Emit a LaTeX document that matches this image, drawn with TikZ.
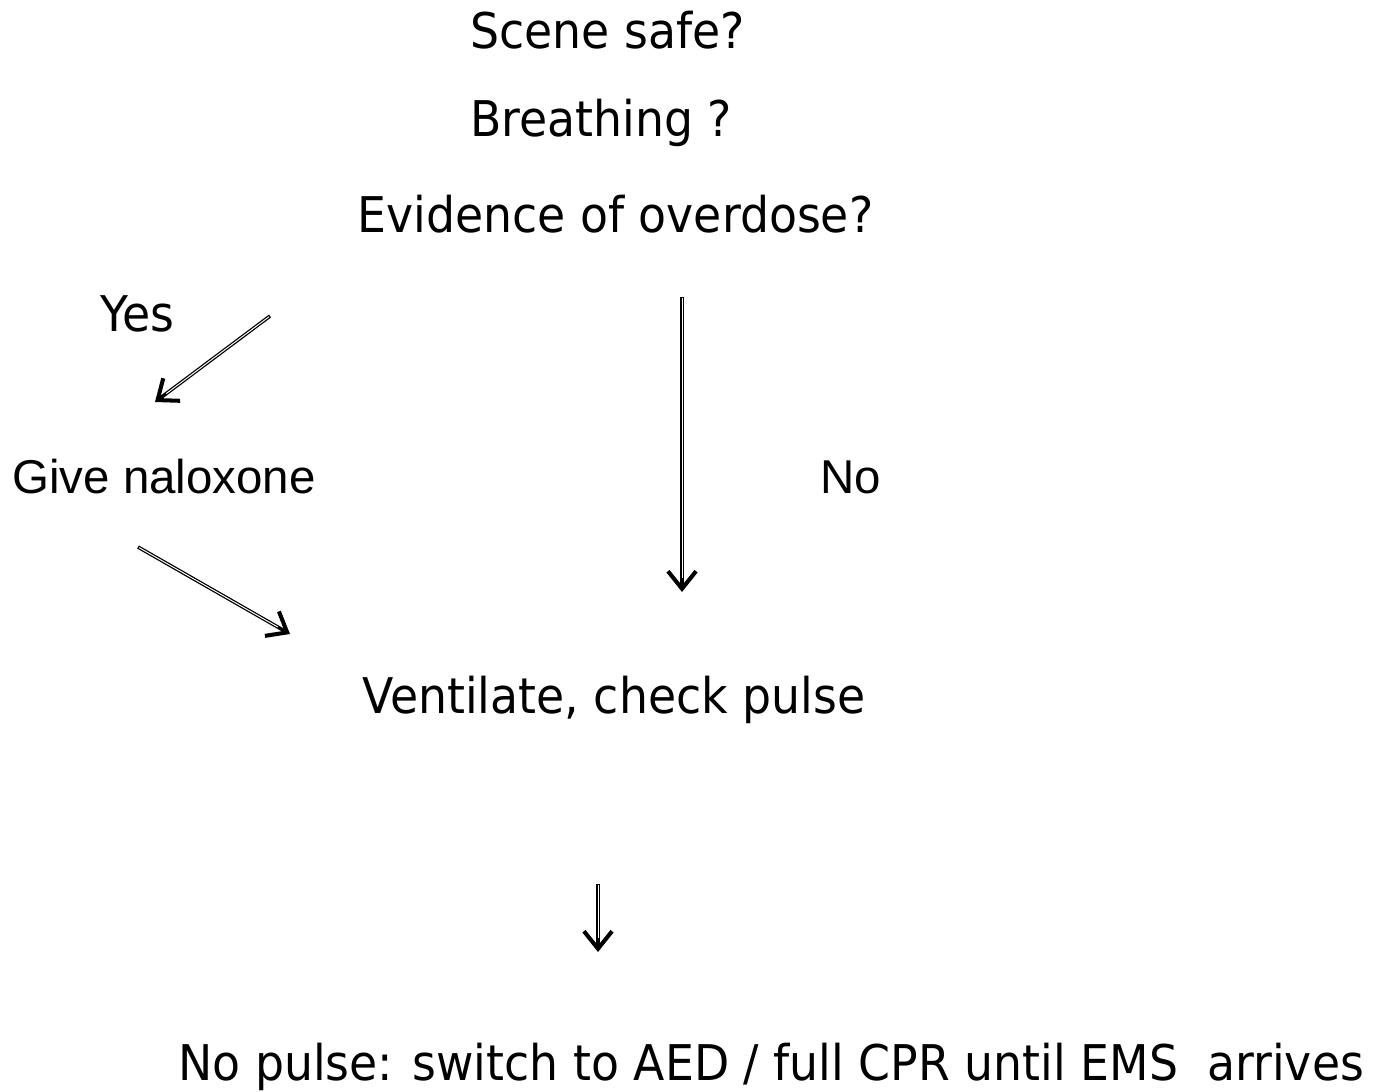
\documentclass[tikz,border=0pt]{standalone}
\usepackage{fontspec}
\usepackage{tikz}
\usetikzlibrary{positioning, arrows.meta}
\newfontfamily\stepfont[FakeStretch=0.93]{DejaVu Sans}
\newfontfamily\arialfont{Liberation Sans}

\tikzset{
  steptext/.style={inner sep=0pt, anchor=base west, font=\stepfont\fontsize{28pt}{34pt}\selectfont},
  plaintext/.style={inner sep=0pt, anchor=base west, font=\arialfont\fontsize{27pt}{32pt}\selectfont},
  flowarrow/.style={line width=2pt,
    -{Straight Barb[length=10pt, width=16pt, line width=2.3pt]},
    postaction={draw=white, line width=0.55pt, -, shorten >=8pt, shorten <=0.7pt}}
}

\begin{document}
\begin{tikzpicture}
\useasboundingbox (0,0) rectangle (27.92,-21.82);

\node[steptext] (scene) at (9.40,-0.96) {Scene safe?};
\node[steptext] (breath) at (9.40,-2.72) {Breathing ?};
\node[steptext] (evid) at (7.14,-4.64) {Evidence of overdose?};

\node[steptext] (yes) at (2.00,-6.62) {Yes};
\node[plaintext] (give) at (0.24,-9.86) {Give naloxone};
\node[plaintext] (no) at (16.40,-9.86) {No};

\node[steptext] (vent) at (7.24,-14.26) {Ventilate, check pulse};
\node[steptext] (nopulse) at (3.56,-21.60) {No pulse: switch to AED / full CPR until EMS\ \ arrives};

\coordinate (yesA) at (5.40,-6.32);
\coordinate (yesB) at (3.10,-8.04);
\draw[flowarrow] (yesA) -- (yesB);

\coordinate (giveA) at (2.76,-10.94);
\coordinate (giveB) at (5.80,-12.68);
\draw[flowarrow] (giveA) -- (giveB);

\coordinate (noA) at (13.64,-5.94);
\coordinate (noB) at (13.64,-11.84);
\draw[flowarrow] (noA) -- (noB);

\coordinate (ventA) at (11.96,-17.68);
\coordinate (ventB) at (11.96,-19.04);
\draw[flowarrow] (ventA) -- (ventB);
\end{tikzpicture}
\end{document}
